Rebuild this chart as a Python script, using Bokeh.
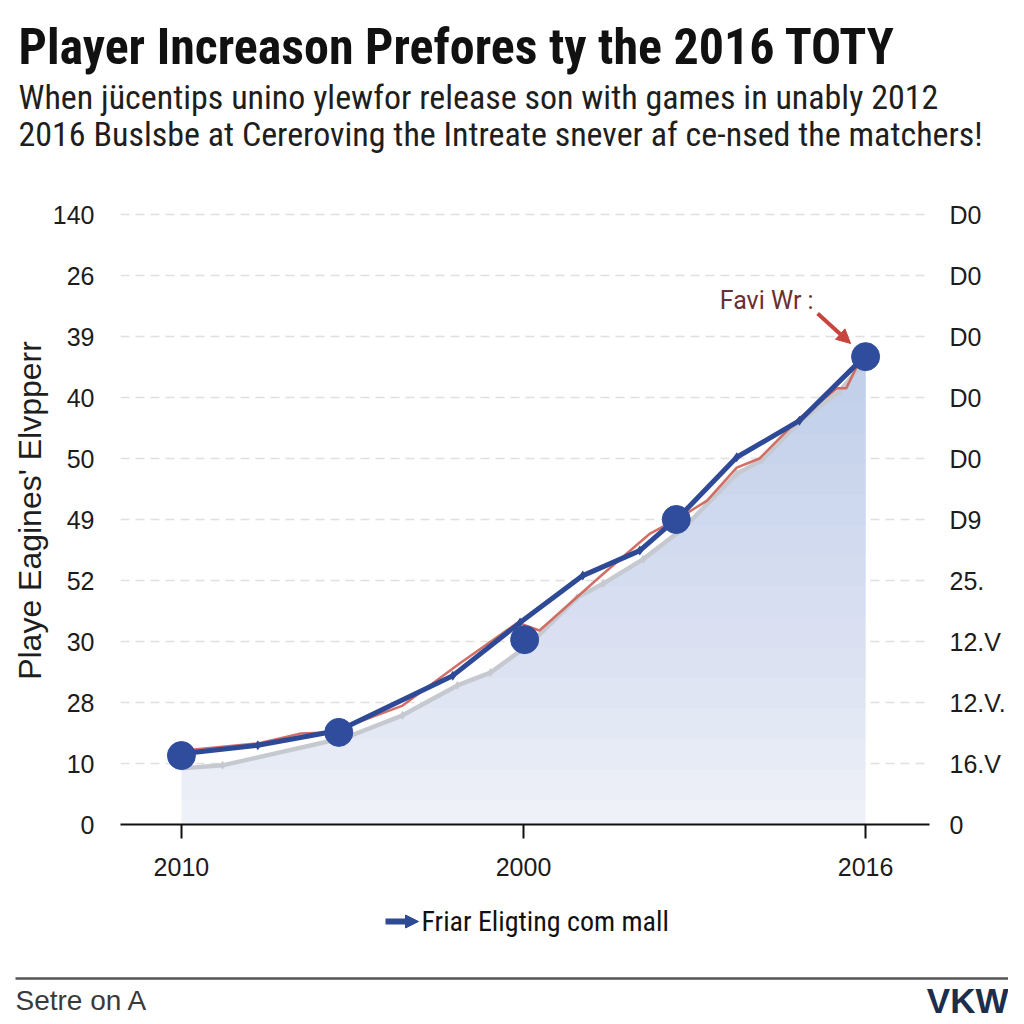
import numpy as np
from bokeh.plotting import figure
from bokeh.layouts import column
from bokeh.models import (FixedTicker, LinearAxis, Label, Arrow, NormalHead, Range1d)
from bokeh.core.properties import value
from bokeh.embed import file_html
from bokeh.resources import INLINE

# ---------------- data ----------------
title_text = "Player Increason Prefores ty the 2016 TOTY"
subtitle_1 = "When jücentips unino ylewfor release son with games in unably 2012"
subtitle_2 = "2016 Buslsbe at Cereroving the Intreate snever af ce-nsed the matchers!"
y_title = "Playe Eagines' Elvpperr"
legend_text = "Friar Eligting com mall"
annot_text = "Favi Wr :"
source_text = "Setre on A"
logo_text = "VKW"

x_ticks = [2010, 2013, 2016]
x_tick_labels = ["2010", "2000", "2016"]
y_ticks = [0, 1, 2, 3, 4, 5, 6, 7, 8, 9, 10]
left_labels = ["0", "10", "28", "30", "52", "49", "50", "40", "39", "26", "140"]
right_labels = ["0", "16.V", "12.V.", "12.V", "25.", "D9", "D0", "D0", "D0", "D0", "D0"]

blue_years = [2010.0, 2010.67, 2011.38, 2012.38, 2012.97, 2013.52, 2014.02, 2014.40, 2014.87, 2015.42, 2015.99]
blue_vals = [1.16, 1.30, 1.54, 2.44, 3.31, 4.08, 4.49, 5.11, 6.02, 6.62, 7.67]

dot_years = [2010.0, 2011.38, 2013.01, 2014.34, 2016.0]
dot_vals = [1.13, 1.51, 3.03, 5.00, 7.67]

red_years = [2010.0, 2010.67, 2011.04, 2011.28, 2011.54, 2011.94, 2012.44, 2012.95, 2013.14,
             2013.70, 2014.11, 2014.37, 2014.61, 2014.87, 2015.07, 2015.42, 2015.75, 2015.83, 2015.95]
red_vals = [1.21, 1.33, 1.49, 1.51, 1.67, 1.95, 2.64, 3.31, 3.18,
            4.11, 4.77, 5.03, 5.31, 5.85, 6.00, 6.66, 7.15, 7.15, 7.61]

gray_years = [2010.0, 2010.36, 2011.45, 2011.94, 2012.42, 2012.71, 2013.05, 2013.47, 2013.70,
              2014.05, 2014.40, 2014.87, 2015.09, 2015.42, 2015.77, 2016.0]
gray_vals = [0.92, 0.97, 1.43, 1.79, 2.28, 2.49, 2.95, 3.72, 3.95,
             4.35, 4.85, 5.75, 5.97, 6.60, 7.10, 7.61]

# ---------------- layout ----------------
W = 1008
HEAD_H = 162           # page 0..162
MAIN_H = 733           # page 162..895
FOOT_H = 125           # page 895..1020
FRAME_L, FRAME_R, FRAME_T, FRAME_B = 120, 930, 196, 824   # page pixels
PX_PER_YEAR = (866 - 181) / 6.0
PX_PER_UNIT = 61.0


def dx(px):
    return 2010 + (px - 181) / PX_PER_YEAR


def dy(py):
    return (FRAME_B - py) / PX_PER_UNIT


NARROW = "Liberation Sans Narrow, Roboto Condensed, DejaVu Sans Condensed, Liberation Sans"
SANS = "Liberation Sans"


def no_align(f):
    if "frame_align" in f.properties():
        f.frame_align = False
    return f


def blank(height, top):
    f = figure(width=W, height=height, output_backend="svg", toolbar_location=None,
               x_range=Range1d(0, W), y_range=Range1d(top + height, top),
               min_border=0, border_fill_color="white", background_fill_color="white")
    f.axis.visible = False
    f.grid.visible = False
    f.outline_line_color = None
    return no_align(f)


# ---------------- header ----------------
head = blank(HEAD_H, 0)
head.text(x=[18], y=[46], text=[title_text], text_align="left", text_baseline="alphabetic",
          text_font=value(NARROW), text_font_style="bold", text_font_size="50px", text_color="#111111")
head.text(x=[18, 18], y=[96, 133], text=[subtitle_1, subtitle_2], text_align="left",
          text_baseline="alphabetic", text_font=value(NARROW), text_font_size="34px",
          text_color="#1e1e1e")

# ---------------- main chart ----------------
p = figure(width=W, height=MAIN_H, output_backend="svg", toolbar_location=None,
           x_range=Range1d(dx(FRAME_L), dx(FRAME_R)), y_range=Range1d(0, dy(FRAME_T)),
           min_border_left=FRAME_L, min_border_right=W - FRAME_R,
           min_border_top=FRAME_T - HEAD_H, min_border_bottom=HEAD_H + MAIN_H - FRAME_B,
           background_fill_color="white", border_fill_color="white")
no_align(p)
p.outline_line_color = None

p.xgrid.visible = False
p.ygrid.ticker = FixedTicker(ticks=y_ticks)
p.ygrid.grid_line_color = "#e0e0e0"
p.ygrid.grid_line_dash = "9 6"
p.ygrid.grid_line_width = 1.5

yl = p.yaxis[0]
yl.ticker = FixedTicker(ticks=y_ticks)
yl.major_label_overrides = {t: s for t, s in zip(y_ticks, left_labels)}
yl.axis_line_color = None
yl.major_tick_line_color = None
yl.minor_tick_line_color = None
yl.major_tick_out = 0
yl.major_label_standoff = 26
yl.major_label_text_font = SANS
yl.major_label_text_font_size = "25px"
yl.major_label_text_color = "#1c1c1c"
yl.axis_label = y_title
yl.axis_label_standoff = 2
yl.axis_label_text_font = SANS
yl.axis_label_text_font_style = "normal"
yl.axis_label_text_font_size = "32px"
yl.axis_label_text_color = "#1e1e1e"

yr = LinearAxis(ticker=FixedTicker(ticks=y_ticks))
yr.major_label_overrides = {t: s for t, s in zip(y_ticks, right_labels)}
yr.axis_line_color = None
yr.major_tick_line_color = None
yr.minor_tick_line_color = None
yr.major_tick_out = 0
yr.major_label_standoff = 20
yr.major_label_text_font = SANS
yr.major_label_text_font_size = "25px"
yr.major_label_text_color = "#1c1c1c"
p.add_layout(yr, "right")

xa = p.xaxis[0]
xa.ticker = FixedTicker(ticks=x_ticks)
xa.major_label_overrides = {t: s for t, s in zip(x_ticks, x_tick_labels)}
xa.axis_line_color = "#111111"
xa.axis_line_width = 2
xa.major_tick_line_color = "#111111"
xa.major_tick_line_width = 2
xa.major_tick_out = 14
xa.major_tick_in = 0
xa.minor_tick_line_color = None
xa.major_label_standoff = 19
xa.major_label_text_font = SANS
xa.major_label_text_font_size = "25px"
xa.major_label_text_color = "#1c1c1c"

# area fill (stepped vertical gradient built from the gray series)
gy = np.array(gray_vals)
p.varea(x=gray_years, y1=0, y2=gray_vals, fill_color="#eff1f8", fill_alpha=1.0)
for t in np.linspace(0.4, 7.4, 15):
    p.varea(x=gray_years, y1=t, y2=np.maximum(gy, t), fill_color="#93a8d8", fill_alpha=0.035)

p.line(gray_years, gray_vals, line_color="#c6cad0", line_width=4.5)
p.scatter(gray_years[1:-1], gray_vals[1:-1], marker="diamond", size=9, fill_color="#c6cad0", line_color=None)
p.line(red_years, red_vals, line_color="#d0665d", line_width=2.5, line_alpha=0.95)
p.line(blue_years, blue_vals, line_color="#2e4a96", line_width=5)
p.scatter(blue_years[1:-1], blue_vals[1:-1], marker="diamond", size=10, fill_color="#2e4a96", line_color=None)
p.scatter(dot_years, dot_vals, marker="circle", size=28, fill_color="#2f4d9c", line_color="#2f4d9c")

p.add_layout(Label(x=dx(767), y=dy(300), text=annot_text, text_align="center", text_baseline="middle",
                   text_font="Roboto", text_font_size="25px", text_color="#6a3030"))
p.add_layout(Arrow(x_start=dx(818), y_start=dy(313), x_end=dx(851), y_end=dy(343),
                   line_color="#c8453f", line_width=4,
                   end=NormalHead(size=14, fill_color="#c8453f", line_color="#c8453f")))

# ---------------- footer (legend + source) ----------------
top = HEAD_H + MAIN_H
foot = blank(FOOT_H, top)
foot.add_layout(Arrow(x_start=385, y_start=921, x_end=418, y_end=921,
                      line_color="#2e4a96", line_width=6,
                      end=NormalHead(size=13, fill_color="#2e4a96", line_color="#2e4a96")))
foot.text(x=[421], y=[921], text=[legend_text], text_align="left", text_baseline="middle",
          text_font=value(NARROW), text_font_size="28px", text_color="#111111")
foot.segment(x0=[15], y0=[978], x1=[1010], y1=[978], line_color="#555555", line_width=2.5)
foot.text(x=[15], y=[1000], text=[source_text], text_align="left", text_baseline="middle",
          text_font=value(SANS), text_font_size="28px", text_color="#3a3a3a")
foot.text(x=[1008], y=[1000], text=[logo_text], text_align="right", text_baseline="middle",
          text_font=value(SANS), text_font_style="bold", text_font_size="35px", text_color="#1d2e4c")

layout = column(head, p, foot, spacing=0)
open("out.html", "w").write(file_html(layout, INLINE))
